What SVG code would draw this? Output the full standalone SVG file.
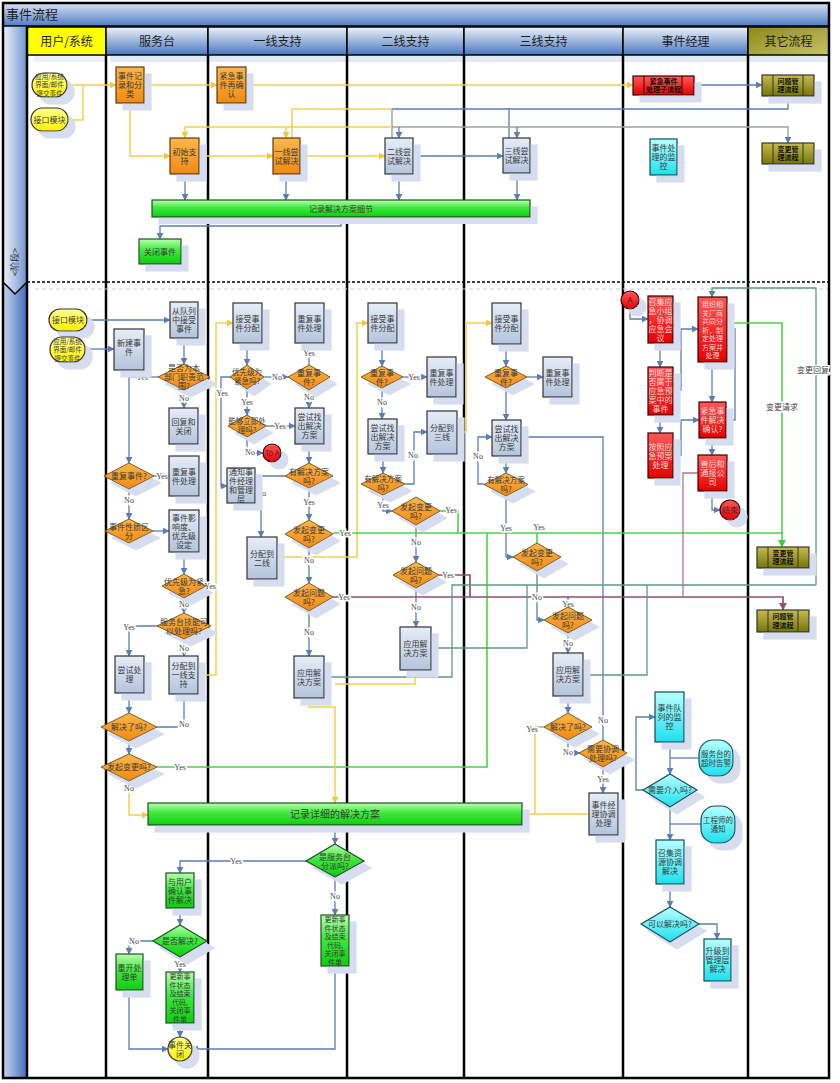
<svg xmlns="http://www.w3.org/2000/svg" width="840" height="1083" viewBox="0 0 840 1083">
<defs>
<style>
.t{font-family:"Noto Sans CJK SC","Noto Sans",sans-serif;font-size:8px;fill:#3a3a3a;text-anchor:middle}
.ts{font-size:7.5px}
.t7{font-size:7px}
.t6{font-size:6.5px}
.tb{font-weight:bold;font-size:7px;fill:#111}
.tr{fill:#f2d6d6}
.h{font-family:"Noto Sans CJK SC","Noto Sans",sans-serif;font-size:12px;fill:#1e1e1e;text-anchor:middle}
.yl{font-family:"Liberation Serif",serif;font-size:8px;fill:#444;text-anchor:middle;paint-order:stroke;stroke:#fff;stroke-width:3px}
.cl{font-family:"Noto Sans CJK SC",sans-serif;font-size:8px;fill:#444;text-anchor:middle;paint-order:stroke;stroke:#fff;stroke-width:3px}
.bx{fill:url(#gB);stroke:#333;stroke-width:1.2;filter:url(#sh)}
.or{fill:url(#gO);stroke:#5a3a10;stroke-width:1.2;filter:url(#sh)}
.od{fill:url(#gO);stroke:#7a5a20;stroke-width:1;filter:url(#sh)}
.gr{fill:url(#gG);stroke:#1f4f1f;stroke-width:1.2;filter:url(#sh)}
.rd{fill:url(#gR);stroke:#3a0000;stroke-width:1.2;filter:url(#sh)}
.cy1{fill:url(#gC);stroke:#1a4a55;stroke-width:1.2;filter:url(#sh)}
.yw{fill:url(#gY);stroke:#333;stroke-width:1.2;filter:url(#sh)}
.ol{fill:url(#gOl);stroke:#333;stroke-width:1.2;filter:url(#sh)}
.cb{fill:none;stroke:#5b7db3;stroke-width:1.3}
.cy{fill:none;stroke:#f4cf4e;stroke-width:1.5}
.cg{fill:none;stroke:#4bd34b;stroke-width:1.6}
.ct{fill:none;stroke:#5e9a80;stroke-width:1.3}
.cp{fill:none;stroke:#8e4f77;stroke-width:1.7}
.cp2{fill:none;stroke:#a8779a;stroke-width:1.3}
.cgy{fill:none;stroke:#9aa29a;stroke-width:1.4}
.ln{stroke:#000;stroke-width:2.5}
</style>
<linearGradient id="gB" x1="0" y1="0" x2="0" y2="1"><stop offset="0" stop-color="#e6edf7"/><stop offset="1" stop-color="#b4c4dc"/></linearGradient>
<linearGradient id="gO" x1="0" y1="0" x2="0" y2="1"><stop offset="0" stop-color="#fcb64a"/><stop offset="1" stop-color="#f08a12"/></linearGradient>
<linearGradient id="gG" x1="0" y1="0" x2="0" y2="1"><stop offset="0" stop-color="#b8ffae"/><stop offset="0.45" stop-color="#3fe83f"/><stop offset="1" stop-color="#10cc10"/></linearGradient>
<linearGradient id="gR" x1="0" y1="0" x2="0" y2="1"><stop offset="0" stop-color="#ff5a5a"/><stop offset="1" stop-color="#e60000"/></linearGradient>
<linearGradient id="gC" x1="0" y1="0" x2="0" y2="1"><stop offset="0" stop-color="#b8ffff"/><stop offset="1" stop-color="#1ee0ee"/></linearGradient>
<linearGradient id="gY" x1="0" y1="0" x2="0" y2="1"><stop offset="0" stop-color="#ffff90"/><stop offset="1" stop-color="#fff200"/></linearGradient>
<linearGradient id="gOl" x1="0" y1="0" x2="0" y2="1"><stop offset="0" stop-color="#c4bc4c"/><stop offset="1" stop-color="#77750a"/></linearGradient>
<linearGradient id="gH" x1="0" y1="0" x2="0" y2="1"><stop offset="0" stop-color="#eef2f9"/><stop offset="1" stop-color="#4a77c0"/></linearGradient>
<linearGradient id="gT" x1="0" y1="0" x2="0" y2="1"><stop offset="0" stop-color="#dbe4f3"/><stop offset="1" stop-color="#4f7cc4"/></linearGradient>
<linearGradient id="gHo" x1="0" y1="0" x2="1" y2="1"><stop offset="0" stop-color="#8a8a14"/><stop offset="1" stop-color="#c9c26a"/></linearGradient>
<linearGradient id="gL" x1="0" y1="0" x2="1" y2="0"><stop offset="0" stop-color="#c9d7ef"/><stop offset="1" stop-color="#3f6dbd"/></linearGradient>
<linearGradient id="gL2" x1="0" y1="0" x2="1" y2="0"><stop offset="0" stop-color="#eef2fa"/><stop offset="1" stop-color="#6d93cf"/></linearGradient>
<filter id="sh" x="-30%" y="-30%" width="170%" height="170%">
<feOffset in="SourceAlpha" dx="7" dy="7" result="o"/>
<feFlood flood-color="#d5ddee"/>
<feComposite operator="in" in2="o"/>
<feMerge><feMergeNode/><feMergeNode in="SourceGraphic"/></feMerge>
</filter>
<marker id="aB" viewBox="0 0 10 10" refX="9" refY="5" markerWidth="7" markerHeight="7" markerUnits="userSpaceOnUse" orient="auto"><path d="M0,0L10,5L0,10z" fill="#5b7db3"/></marker>
<marker id="aY" viewBox="0 0 10 10" refX="9" refY="5" markerWidth="7" markerHeight="7" markerUnits="userSpaceOnUse" orient="auto"><path d="M0,0L10,5L0,10z" fill="#f2c73a"/></marker>
<marker id="aG" viewBox="0 0 10 10" refX="9" refY="5" markerWidth="8" markerHeight="8" markerUnits="userSpaceOnUse" orient="auto"><path d="M0,0L10,5L0,10z" fill="#3ccc3c"/></marker>
<marker id="aT" viewBox="0 0 10 10" refX="9" refY="5" markerWidth="7" markerHeight="7" markerUnits="userSpaceOnUse" orient="auto"><path d="M0,0L10,5L0,10z" fill="#4f8f73"/></marker>
<marker id="aP" viewBox="0 0 10 10" refX="9" refY="5" markerWidth="8" markerHeight="8" markerUnits="userSpaceOnUse" orient="auto"><path d="M0,0L10,5L0,10z" fill="#8e4f77"/></marker>
</defs>

<rect width="840" height="1083" fill="#fff"/>

<g id="frame">
<rect x="3" y="3" width="826" height="23" fill="url(#gT)" stroke="#000" stroke-width="1.5"/>
<text x="6" y="19" style="font-family:'Noto Sans CJK SC',sans-serif;font-size:13px;fill:#1e1e1e">事件流程</text>
<rect x="3" y="27" width="24" height="1051" fill="url(#gL)"/>
<path d="M3,27H27V282L15,294L3,282Z" fill="url(#gL2)"/>
<path d="M3,282L15,294L27,282" fill="none" stroke="#000" stroke-width="1.5"/>
<text transform="translate(18,262) rotate(-90)" style="font-family:'Noto Sans CJK SC',sans-serif;font-size:9px;fill:#333;text-anchor:middle">&lt;阶段&gt;</text>
<rect x="34" y="34" width="72" height="28" fill="#d8e0ee" opacity="0.5"/>
<rect x="27" y="27" width="79" height="28" fill="#ffff00" stroke="#000" stroke-width="1.5"/>
<rect x="106" y="27" width="102" height="28" fill="url(#gH)" stroke="#000" stroke-width="1.5"/>
<rect x="208" y="27" width="139" height="28" fill="url(#gH)" stroke="#000" stroke-width="1.5"/>
<rect x="347" y="27" width="117" height="28" fill="url(#gH)" stroke="#000" stroke-width="1.5"/>
<rect x="464" y="27" width="159" height="28" fill="url(#gH)" stroke="#000" stroke-width="1.5"/>
<rect x="623" y="27" width="125" height="28" fill="url(#gH)" stroke="#000" stroke-width="1.5"/>
<rect x="748" y="27" width="81" height="28" fill="url(#gHo)" stroke="#000" stroke-width="1.5"/>
<rect x="110" y="56" width="719" height="6" fill="#e4eaf4"/>
<text class="h" x="66.5" y="46">用户/系统</text>
<text class="h" x="157" y="46">服务台</text>
<text class="h" x="277.5" y="46">一线支持</text>
<text class="h" x="405.5" y="46">二线支持</text>
<text class="h" x="543.5" y="46">三线支持</text>
<text class="h" x="685.5" y="46">事件经理</text>
<text class="h" x="788.5" y="46">其它流程</text>
<line class="ln" x1="27" y1="27" x2="27" y2="1078"/>
<line class="ln" x1="106" y1="55" x2="106" y2="1078"/>
<line class="ln" x1="208" y1="55" x2="208" y2="1078"/>
<line class="ln" x1="347" y1="55" x2="347" y2="1078"/>
<line class="ln" x1="464" y1="55" x2="464" y2="1078"/>
<line class="ln" x1="623" y1="55" x2="623" y2="1078"/>
<line class="ln" x1="748" y1="55" x2="748" y2="1078"/>
<line x1="35" y1="289" x2="829" y2="289" stroke="#c5d0e4" stroke-width="1.2" stroke-dasharray="4,3"/>
<line x1="27" y1="282" x2="829" y2="282" stroke="#000" stroke-width="1.5" stroke-dasharray="3,2"/>
<rect x="3" y="3" width="826" height="1075" fill="none" stroke="#000" stroke-width="2.5"/>
</g>

<g id="connectors">
<path class="cy" d="M67,85H116" marker-end="url(#aY)"/>
<path class="cy" d="M68,120H83V85"/>
<path class="cy" d="M144,85H217" marker-end="url(#aY)"/>
<path class="cy" d="M246,85H633" marker-end="url(#aY)"/>
<path class="cy" d="M130,103V156H170" marker-end="url(#aY)"/>
<path class="cy" d="M199,156H273" marker-end="url(#aY)"/>
<path class="cy" d="M300,156H385" marker-end="url(#aY)"/>
<path class="cb" d="M413,156H503" marker-end="url(#aB)"/>
<path class="cy" d="M292,138V109H392"/>
<path class="cb" d="M392,109H788V96" marker-end="url(#aB)"/>
<path class="cgy" d="M392,138V109"/>
<path class="cb" d="M509,138V109"/>
<path class="cy" d="M392,127H185V138" marker-end="url(#aY)"/>
<path class="cy" d="M286,127V138" marker-end="url(#aY)"/>
<path class="cgy" d="M392,127H788V143" marker-end="url(#aB)"/>
<path class="cb" d="M399,127V138" marker-end="url(#aB)"/>
<path class="cb" d="M517,127V138" marker-end="url(#aB)"/>
<path class="cb" d="M185,174V200" marker-end="url(#aB)"/>
<path class="cb" d="M286,174V200" marker-end="url(#aB)"/>
<path class="cb" d="M399,174V200" marker-end="url(#aB)"/>
<path class="cb" d="M517,173V200" marker-end="url(#aB)"/>
<path class="cb" d="M341,217V226H160V239" marker-end="url(#aB)"/>
<path class="cb" d="M694,85H762" marker-end="url(#aB)"/>

<path class="cb" d="M87,320H170" marker-end="url(#aB)"/>
<path class="cb" d="M85,349H114" marker-end="url(#aB)"/>
<path class="cb" d="M184,338V364" marker-end="url(#aB)"/>
<path class="cb" d="M158,377H129"/>
<path class="cb" d="M129,370V463" marker-end="url(#aB)"/>
<path class="cb" d="M184,390V408" marker-end="url(#aB)"/>
<path class="cb" d="M154,476H169" marker-end="url(#aB)"/>
<path class="cb" d="M129,489V519" marker-end="url(#aB)"/>
<path class="cb" d="M153,531H169" marker-end="url(#aB)"/>
<path class="cb" d="M184,552V574" marker-end="url(#aB)"/>
<path class="cb" d="M184,598V613" marker-end="url(#aB)"/>
<path class="cb" d="M158,626H129V656" marker-end="url(#aB)"/>
<path class="cb" d="M184,639V656" marker-end="url(#aB)"/>
<path class="cb" d="M129,693V713" marker-end="url(#aB)"/>
<path class="cb" d="M157,727H184V694" marker-end="url(#aB)"/>
<path class="cb" d="M129,741V754" marker-end="url(#aB)"/>
<path class="cgy" d="M206,586H216"/>
<path class="cy" d="M198,675H216V323H233" marker-end="url(#aY)"/>
<path class="cy" d="M129,781V815H148" marker-end="url(#aY)"/>
<path class="cg" d="M157,767H487V533"/>

<path class="cb" d="M335,825V844" marker-end="url(#aB)"/>
<path class="cb" d="M306,861H180V873" marker-end="url(#aB)"/>
<path class="cb" d="M335,877V915" marker-end="url(#aB)"/>
<path class="cb" d="M180,908V925" marker-end="url(#aB)"/>
<path class="cb" d="M153,941H129V954" marker-end="url(#aB)"/>
<path class="cb" d="M180,957V972" marker-end="url(#aB)"/>
<path class="cb" d="M180,1023V1037" marker-end="url(#aB)"/>
<path class="cb" d="M129,990V1049H168" marker-end="url(#aB)"/>
<path class="cb" d="M335,966V1049H192" marker-end="url(#aB)"/>

<path class="cb" d="M247,343V365" marker-end="url(#aB)"/>
<path class="cb" d="M247,389V415" marker-end="url(#aB)"/>
<path class="cb" d="M264,377H288" marker-end="url(#aB)"/>
<path class="cb" d="M230,377H221V486H227" marker-end="url(#aB)"/>
<path class="cb" d="M266,426H295" marker-end="url(#aB)"/>
<path class="cb" d="M247,437V453H263" marker-end="url(#aB)"/>
<path class="cb" d="M309,365V343" marker-end="url(#aB)"/>
<path class="cb" d="M309,390V408" marker-end="url(#aB)"/>
<path class="cb" d="M309,444V463" marker-end="url(#aB)"/>
<path class="cb" d="M286,476H261V537" marker-end="url(#aB)"/>
<path class="cb" d="M309,488V520" marker-end="url(#aB)"/>
<path class="cb" d="M309,548V583" marker-end="url(#aB)"/>
<path class="cb" d="M309,611V656" marker-end="url(#aB)"/>
<path class="cy" d="M277,557H357V323H368" marker-end="url(#aY)"/>
<path class="cy" d="M309,698V707H335V803" marker-end="url(#aY)"/>

<path class="cb" d="M382,343V366" marker-end="url(#aB)"/>
<path class="cb" d="M403,377H427" marker-end="url(#aB)"/>
<path class="cb" d="M382,388V419" marker-end="url(#aB)"/>
<path class="cb" d="M383,454V473" marker-end="url(#aB)"/>
<path class="cb" d="M405,484H414V432H427" marker-end="url(#aB)"/>
<path class="cb" d="M383,495V511H392" marker-end="url(#aB)"/>
<path class="cb" d="M416,525V562" marker-end="url(#aB)"/>
<path class="cb" d="M416,588V627" marker-end="url(#aB)"/>
<path class="cy" d="M457,432H466V323H492" marker-end="url(#aY)"/>
<path class="cy" d="M415,670V684H335"/>

<path class="cb" d="M506,344V366" marker-end="url(#aB)"/>
<path class="cb" d="M527,377H543" marker-end="url(#aB)"/>
<path class="cb" d="M506,388V420" marker-end="url(#aB)"/>
<path class="cb" d="M506,456V473" marker-end="url(#aB)"/>
<path class="cb" d="M484,484H478V437H492" marker-end="url(#aB)"/>
<path class="cb" d="M506,496V557H513" marker-end="url(#aB)"/>
<path class="cb" d="M537,571V620H544" marker-end="url(#aB)"/>
<path class="cb" d="M568,633V653" marker-end="url(#aB)"/>
<path class="cb" d="M568,696V713" marker-end="url(#aB)"/>
<path class="cb" d="M568,740V753H580" marker-end="url(#aB)"/>
<path class="cb" d="M603,740V437H521" marker-end="url(#aB)"/>
<path class="cb" d="M603,767V793" marker-end="url(#aB)"/>
<path class="cgy" d="M544,727H535"/>
<path class="cy" d="M535,727V814H522" marker-end="url(#aY)"/>
<path class="cy" d="M589,814H535"/>

<path class="cg" d="M333,533H782"/>
<path class="cg" d="M440,511H458V533"/>
<path class="cg" d="M537,543V533"/>
<path class="cg" d="M727,323H782V547" marker-end="url(#aG)"/>
<path class="cp" d="M333,597H783V610" marker-end="url(#aP)"/>
<path class="cp" d="M439,575H470V597"/>
<path class="cp" d="M568,607V597"/>
<path class="cp2" d="M698,473H683V597"/>
<path class="ct" d="M809,557H816"/>
<path class="ct" d="M816,585V288H712V297" marker-end="url(#aT)"/>
<path class="ct" d="M816,585H452V677H324" marker-end="url(#aT)"/>
<path class="ct" d="M647,585V675H583" marker-end="url(#aT)"/>
<path class="ct" d="M527,585V648H431" marker-end="url(#aT)"/>

<path class="cb" d="M630,309V319H648" marker-end="url(#aB)"/>
<path class="cb" d="M660,343V367" marker-end="url(#aB)"/>
<path class="cb" d="M660,415V433" marker-end="url(#aB)"/>
<path class="cb" d="M673,390H681V329H698" marker-end="url(#aB)"/>
<path class="cb" d="M673,455H681V420H699" marker-end="url(#aB)"/>
<path class="cb" d="M712,362V402" marker-end="url(#aB)"/>
<path class="cb" d="M726,420H735V329H727" marker-end="url(#aB)"/>
<path class="cb" d="M712,438V455" marker-end="url(#aB)"/>
<path class="cb" d="M712,491V510H720" marker-end="url(#aB)"/>

<path class="cb" d="M670,742V774" marker-end="url(#aB)"/>
<path class="cb" d="M699,758H670"/>
<path class="cb" d="M643,790H636V717H655" marker-end="url(#aB)"/>
<path class="cb" d="M670,807V840" marker-end="url(#aB)"/>
<path class="cb" d="M701,824H670"/>
<path class="cb" d="M670,884V907" marker-end="url(#aB)"/>
<path class="cb" d="M699,924H717V939" marker-end="url(#aB)"/>

<text class="yl" x="142" y="380">Yes</text>
<text class="yl" x="184" y="401">No</text>
<text class="yl" x="162" y="479">Yes</text>
<text class="yl" x="129" y="503">No</text>
<text class="yl" x="210" y="589">Yes</text>
<text class="yl" x="184" y="607">No</text>
<text class="yl" x="129" y="630">Yes</text>
<text class="yl" x="184" y="651">No</text>
<text class="yl" x="184" y="727">No</text>
<text class="yl" x="180" y="770">Yes</text>
<text class="yl" x="129" y="791">No</text>
<text class="yl" x="236" y="864">Yes</text>
<text class="yl" x="335" y="899">No</text>
<text class="yl" x="134" y="944">No</text>
<text class="yl" x="180" y="967">Yes</text>
<text class="yl" x="247" y="405">Yes</text>
<text class="yl" x="277" y="380">No</text>
<text class="yl" x="222" y="396">Yes</text>
<text class="yl" x="280" y="429">Yes</text>
<text class="yl" x="250" y="455">No</text>
<text class="yl" x="309" y="356">Yes</text>
<text class="yl" x="309" y="400">No</text>
<text class="yl" x="261" y="496">No</text>
<text class="yl" x="309" y="505">Yes</text>
<text class="yl" x="345" y="536">Yes</text>
<text class="yl" x="309" y="563">No</text>
<text class="yl" x="344" y="600">Yes</text>
<text class="yl" x="309" y="635">No</text>
<text class="yl" x="414" y="380">Yes</text>
<text class="yl" x="382" y="405">No</text>
<text class="yl" x="413" y="458">No</text>
<text class="yl" x="383" y="508">Yes</text>
<text class="yl" x="451" y="513">Yes</text>
<text class="yl" x="416" y="545">No</text>
<text class="yl" x="448" y="578">Yes</text>
<text class="yl" x="416" y="610">No</text>
<text class="yl" x="478" y="459">No</text>
<text class="yl" x="506" y="531">Yes</text>
<text class="yl" x="539" y="530">Yes</text>
<text class="yl" x="537" y="600">No</text>
<text class="yl" x="568" y="607">Yes</text>
<text class="yl" x="568" y="646">No</text>
<text class="yl" x="532" y="732">Yes</text>
<text class="yl" x="568" y="755">No</text>
<text class="yl" x="603" y="723">No</text>
<text class="yl" x="603" y="782">Yes</text>
<text class="cl" x="782" y="410">变更请求</text>
<text class="cl" x="813" y="373">变更回复</text>
</g>

<g id="u-user-submit"><rect class="yw" x="32" y="73" width="35" height="24" rx="12"/><text class="t t6" x="49.5" y="78.5">应用/系统<tspan x="49.5" dy="8.5">界面/邮件</tspan><tspan x="49.5" dy="8.5">提交事件</tspan></text></g>
<g id="u-interface"><rect class="yw" x="31" y="108" width="37" height="23" rx="11.5"/><text class="t" x="49.5" y="122.5">接口模块</text></g>
<g id="u-record"><rect class="or" x="116" y="67" width="28" height="36"/><text class="t" x="130" y="79">事件记<tspan x="130" dy="9">录和分</tspan><tspan x="130" dy="9">类</tspan></text></g>
<g id="u-urgent-confirm"><rect class="or" x="217" y="67" width="29" height="36"/><text class="t" x="231.5" y="79">紧急事<tspan x="231.5" dy="9">件再确</tspan><tspan x="231.5" dy="9">认</tspan></text></g>
<g id="u-initial"><rect class="or" x="170" y="138" width="29" height="36"/><text class="t" x="184.5" y="154.5">初始支<tspan x="184.5" dy="9">持</tspan></text></g>
<g id="u-l1"><rect class="or" x="273" y="138" width="27" height="36"/><text class="t" x="286.5" y="154.5">一线尝<tspan x="286.5" dy="9">试解决</tspan></text></g>
<g id="u-l2"><rect class="bx" x="385" y="138" width="28" height="36"/><text class="t" x="399" y="154.5">二线尝<tspan x="399" dy="9">试解决</tspan></text></g>
<g id="u-l3"><rect class="bx" x="503" y="138" width="27" height="35"/><text class="t" x="516.5" y="154">三线尝<tspan x="516.5" dy="9">试解决</tspan></text></g>
<g id="u-record-bar"><rect class="gr" x="152" y="200" width="378" height="17"/><text class="t" x="341" y="211.5">记录解决方案细节</text></g>
<g id="u-close"><rect class="gr" x="139" y="239" width="42" height="25"/><text class="t" x="160" y="254.5">关闭事件</text></g>
<g id="u-urgent-sub"><rect class="rd" x="633" y="76" width="61" height="19"/><line x1="644" y1="76" x2="644" y2="95" stroke="#3a0000"/><line x1="682" y1="76" x2="682" y2="95" stroke="#3a0000"/><text class="t tb" x="663.5" y="83.5">紧急事件<tspan x="663.5" dy="8.5">处理子流程</tspan></text></g>
<g id="u-problem"><rect class="ol" x="762" y="75" width="52" height="21"/><line x1="773" y1="75" x2="773" y2="96" stroke="#333"/><line x1="803" y1="75" x2="803" y2="96" stroke="#333"/><text class="t tb" x="788" y="83.5">问题管<tspan x="788" dy="8.5">理流程</tspan></text></g>
<g id="u-change"><rect class="ol" x="762" y="143" width="52" height="21"/><line x1="773" y1="143" x2="773" y2="164" stroke="#333"/><line x1="803" y1="143" x2="803" y2="164" stroke="#333"/><text class="t tb" x="788" y="151.5">变更管<tspan x="788" dy="8.5">理流程</tspan></text></g>
<g id="u-monitor"><rect class="cy1" x="650" y="139" width="27" height="36"/><text class="t" x="663.5" y="151">事件处<tspan x="663.5" dy="9">理的监</tspan><tspan x="663.5" dy="9">控</tspan></text></g>

<g id="l-interface"><rect class="yw" x="49" y="309" width="38" height="22" rx="11"/><text class="t" x="68" y="323">接口模块</text></g>
<g id="l-user-submit"><rect class="yw" x="50" y="337" width="35" height="25" rx="12"/><text class="t t6" x="67.5" y="343.5">应用/系统<tspan x="67.5" dy="8.5">界面/邮件</tspan><tspan x="67.5" dy="8.5">提交事件</tspan></text></g>
<g id="sd-queue"><rect class="bx" x="170" y="302" width="28" height="36"/><text class="t" x="184" y="314">从队列<tspan x="184" dy="9">中接受</tspan><tspan x="184" dy="9">事件</tspan></text></g>
<g id="sd-new"><rect class="bx" x="114" y="329" width="30" height="41"/><text class="t" x="129" y="346">新建事<tspan x="129" dy="9">件</tspan></text></g>
<g id="sd-scope"><polygon class="od" points="184,364 210,377 184,390 158,377"/><text class="t" x="184" y="371">是否为本<tspan x="184" dy="9">部门职责范</tspan><tspan x="184" dy="9">围?</tspan></text></g>
<g id="sd-reply"><rect class="bx" x="169" y="408" width="29" height="36"/><text class="t" x="183.5" y="424.5">回复和<tspan x="183.5" dy="9">关闭</tspan></text></g>
<g id="sd-dup"><polygon class="od" points="129,463 154,476 129,489 104,476"/><text class="t" x="129" y="479">重复事件?</text></g>
<g id="sd-dup-proc"><rect class="bx" x="169" y="456" width="30" height="40"/><text class="t" x="184" y="474.5">重复事<tspan x="184" dy="9">件处理</tspan></text></g>
<g id="sd-nature"><polygon class="od" points="129,519 153,531 129,543 105,531"/><text class="t" x="129" y="529.5">事件性质区<tspan x="129" dy="9">分</tspan></text></g>
<g id="sd-priority"><rect class="bx" x="169" y="510" width="30" height="42"/><text class="t" x="184" y="520.5">事件影<tspan x="184" dy="9">响度、</tspan><tspan x="184" dy="9">优先级</tspan><tspan x="184" dy="9">设定</tspan></text></g>
<g id="sd-urgent"><polygon class="od" points="184,574 206,586 184,598 162,586"/><text class="t" x="184" y="584.5">优先级为紧<tspan x="184" dy="9">急?</tspan></text></g>
<g id="sd-skill"><polygon class="od" points="184,613 211,626 184,639 157,626"/><text class="t" x="184" y="624.5">服务台技能可<tspan x="184" dy="9">以处理吗?</tspan></text></g>
<g id="sd-try"><rect class="bx" x="115" y="656" width="29" height="37"/><text class="t" x="129.5" y="673">尝试处<tspan x="129.5" dy="9">理</tspan></text></g>
<g id="sd-assign1"><rect class="bx" x="169" y="656" width="29" height="38"/><text class="t" x="183.5" y="669">分配到<tspan x="183.5" dy="9">一线支</tspan><tspan x="183.5" dy="9">持</tspan></text></g>
<g id="sd-solved"><polygon class="od" points="129,713 157,727 129,741 101,727"/><text class="t" x="129" y="730">解决了吗?</text></g>
<g id="sd-change"><polygon class="od" points="129,754 157,767 129,781 101,767"/><text class="t" x="129" y="770">发起变更吗?</text></g>
<g id="record-detail"><rect class="gr" x="148" y="803" width="374" height="22"/><text class="t" x="335" y="818" style="font-size:10px">记录详细的解决方案</text></g>
<g id="is-sd-assigned"><polygon class="gr" points="335,844 364,861 335,877 306,861"/><text class="t" x="335" y="859.5">是服务台<tspan x="335" dy="9">分派吗?</tspan></text></g>
<g id="confirm-user"><rect class="gr" x="166" y="873" width="28" height="35"/><text class="t" x="180" y="884.5">与用户<tspan x="180" dy="9">确认事</tspan><tspan x="180" dy="9">件解决</tspan></text></g>
<g id="is-solved"><polygon class="gr" points="180,925 207,941 180,957 153,941"/><text class="t" x="180" y="944">是否解决?</text></g>
<g id="reopen"><rect class="gr" x="116" y="954" width="27" height="36"/><text class="t" x="129.5" y="970.5">重开处<tspan x="129.5" dy="9">理单</tspan></text></g>
<g id="update-close-a"><rect class="gr" x="166" y="972" width="28" height="51"/><text class="t t7" x="180" y="979">更新事<tspan x="180" dy="8.5">件状态</tspan><tspan x="180" dy="8.5">及结束</tspan><tspan x="180" dy="8.5">代码,</tspan><tspan x="180" dy="8.5">关闭事</tspan><tspan x="180" dy="8.5">件单</tspan></text></g>
<g id="update-close-b"><rect class="gr" x="321" y="915" width="28" height="51"/><text class="t t7" x="335" y="922">更新事<tspan x="335" dy="8.5">件状态</tspan><tspan x="335" dy="8.5">及结束</tspan><tspan x="335" dy="8.5">代码,</tspan><tspan x="335" dy="8.5">关闭事</tspan><tspan x="335" dy="8.5">件单</tspan></text></g>
<g id="closed"><circle class="yw" cx="180" cy="1049" r="12"/><text class="t" x="180" y="1047.5">事件关<tspan x="180" dy="9">闭</tspan></text></g>

<g id="l1-accept"><rect class="bx" x="233" y="303" width="29" height="40"/><text class="t" x="247.5" y="321.5">接受事<tspan x="247.5" dy="9">件分配</tspan></text></g>
<g id="l1-urgent"><polygon class="od" points="247,365 264,377 247,389 230,377"/><text class="t ts" x="247" y="375">优先级为<tspan x="247" dy="9">紧急吗?</tspan></text></g>
<g id="l1-now"><polygon class="od" points="247,415 266,426 247,437 228,426"/><text class="t ts" x="247" y="424">能够立即处<tspan x="247" dy="9">理吗?</tspan></text></g>
<g id="l1-notify"><rect class="bx" x="227" y="468" width="28" height="35"/><text class="t" x="241" y="475">通知事<tspan x="241" dy="9">件经理</tspan><tspan x="241" dy="9">和管理</tspan><tspan x="241" dy="9">层</tspan></text></g>
<g id="to-a"><circle class="rd" cx="272" cy="453" r="9"/><text class="t ts" x="272" y="455.5" style="fill:#552020">To A</text></g>
<g id="l1-dup-proc"><rect class="bx" x="295" y="303" width="29" height="40"/><text class="t" x="309.5" y="321.5">重复事<tspan x="309.5" dy="9">件处理</tspan></text></g>
<g id="l1-dup"><polygon class="od" points="309,365 330,377 309,390 288,377"/><text class="t" x="309" y="375.5">重复事<tspan x="309" dy="9">件?</tspan></text></g>
<g id="l1-find"><rect class="bx" x="295" y="408" width="29" height="36"/><text class="t" x="309.5" y="420">尝试找<tspan x="309.5" dy="9">出解决</tspan><tspan x="309.5" dy="9">方案</tspan></text></g>
<g id="l1-has"><polygon class="od" points="309,463 333,476 309,488 285,476"/><text class="t" x="309" y="474.5">有解决方案<tspan x="309" dy="9">吗?</tspan></text></g>
<g id="l1-assign2"><rect class="bx" x="247" y="537" width="30" height="42"/><text class="t" x="262" y="556.5">分配到<tspan x="262" dy="9">二线</tspan></text></g>
<g id="l1-change"><polygon class="od" points="309,520 333,534 309,548 285,534"/><text class="t" x="309" y="532.5">发起变更<tspan x="309" dy="9">吗?</tspan></text></g>
<g id="l1-problem"><polygon class="od" points="309,583 333,597 309,611 285,597"/><text class="t" x="309" y="595.5">发起问题<tspan x="309" dy="9">吗?</tspan></text></g>
<g id="l1-apply"><rect class="bx" x="294" y="656" width="30" height="42"/><text class="t" x="309" y="675.5">应用解<tspan x="309" dy="9">决方案</tspan></text></g>

<g id="l2-accept"><rect class="bx" x="368" y="303" width="29" height="40"/><text class="t" x="382.5" y="321.5">接受事<tspan x="382.5" dy="9">件分配</tspan></text></g>
<g id="l2-dup"><polygon class="od" points="382,366 403,377 382,388 361,377"/><text class="t" x="382" y="375.5">重复事<tspan x="382" dy="9">件?</tspan></text></g>
<g id="l2-dup-proc"><rect class="bx" x="427" y="357" width="29" height="40"/><text class="t" x="441.5" y="375.5">重复事<tspan x="441.5" dy="9">件处理</tspan></text></g>
<g id="l2-find"><rect class="bx" x="368" y="419" width="29" height="35"/><text class="t" x="382.5" y="430.5">尝试找<tspan x="382.5" dy="9">出解决</tspan><tspan x="382.5" dy="9">方案</tspan></text></g>
<g id="l2-has"><polygon class="od" points="383,473 405,484 383,495 361,484"/><text class="t ts" x="383" y="482">有解决方案<tspan x="383" dy="9">吗?</tspan></text></g>
<g id="l2-assign3"><rect class="bx" x="427" y="411" width="30" height="43"/><text class="t" x="442" y="431">分配到<tspan x="442" dy="9">三线</tspan></text></g>
<g id="l2-change"><polygon class="od" points="416,497 440,511 416,525 392,511"/><text class="t" x="416" y="509.5">发起变更<tspan x="416" dy="9">吗?</tspan></text></g>
<g id="l2-problem"><polygon class="od" points="416,562 439,575 416,588 393,575"/><text class="t" x="416" y="573.5">发起问题<tspan x="416" dy="9">吗?</tspan></text></g>
<g id="l2-apply"><rect class="bx" x="400" y="627" width="31" height="43"/><text class="t" x="415.5" y="647">应用解<tspan x="415.5" dy="9">决方案</tspan></text></g>

<g id="l3-accept"><rect class="bx" x="492" y="303" width="29" height="41"/><text class="t" x="506.5" y="322">接受事<tspan x="506.5" dy="9">件分配</tspan></text></g>
<g id="l3-dup"><polygon class="od" points="506,366 527,377 506,388 485,377"/><text class="t" x="506" y="375.5">重复事<tspan x="506" dy="9">件?</tspan></text></g>
<g id="l3-dup-proc"><rect class="bx" x="543" y="357" width="29" height="40"/><text class="t" x="557.5" y="375.5">重复事<tspan x="557.5" dy="9">件处理</tspan></text></g>
<g id="l3-find"><rect class="bx" x="492" y="420" width="29" height="36"/><text class="t" x="506.5" y="432">尝试找<tspan x="506.5" dy="9">出解决</tspan><tspan x="506.5" dy="9">方案</tspan></text></g>
<g id="l3-has"><polygon class="od" points="506,473 528,484.5 506,496 484,484.5"/><text class="t ts" x="506" y="482.5">有解决方案<tspan x="506" dy="9">吗?</tspan></text></g>
<g id="l3-change"><polygon class="od" points="537,543 561,557 537,571 513,557"/><text class="t" x="537" y="555.5">发起变更<tspan x="537" dy="9">吗?</tspan></text></g>
<g id="l3-problem"><polygon class="od" points="568,607 592,620 568,633 544,620"/><text class="t" x="568" y="618.5">发起问题<tspan x="568" dy="9">吗?</tspan></text></g>
<g id="l3-apply"><rect class="bx" x="553" y="653" width="30" height="43"/><text class="t" x="568" y="673">应用解<tspan x="568" dy="9">决方案</tspan></text></g>
<g id="l3-solved"><polygon class="od" points="568,713 592,727 568,740 544,727"/><text class="t" x="568" y="730">解决了吗?</text></g>
<g id="l3-coord"><polygon class="od" points="603,740 627,753 603,767 579,753"/><text class="t" x="603" y="751.5">需要协调<tspan x="603" dy="9">处理吗?</tspan></text></g>
<g id="l3-mgr-coord"><rect class="bx" x="589" y="793" width="29" height="42"/><text class="t" x="603.5" y="808">事件经<tspan x="603.5" dy="9">理协调</tspan><tspan x="603.5" dy="9">处理</tspan></text></g>

<g id="m-a"><circle class="rd" cx="630" cy="300" r="9"/><text class="t" x="630" y="303" style="fill:#552020">A</text></g>
<g id="m-convene"><rect class="rd" x="648" y="296" width="25" height="47"/><text class="t tr" x="660.5" y="304.5">召集应<tspan x="660.5" dy="9">急小组</tspan><tspan x="660.5" dy="9">，协调</tspan><tspan x="660.5" dy="9">应急会</tspan><tspan x="660.5" dy="9">议</tspan></text></g>
<g id="m-judge"><rect class="rd" x="648" y="367" width="25" height="48"/><text class="t tr" x="660.5" y="376">判断是<tspan x="660.5" dy="9">否属于</tspan><tspan x="660.5" dy="9">应急预</tspan><tspan x="660.5" dy="9">案中的</tspan><tspan x="660.5" dy="9">事件</tspan></text></g>
<g id="m-plan"><rect class="rd" x="648" y="433" width="25" height="45"/><text class="t tr" x="660.5" y="449.5">按照应<tspan x="660.5" dy="9">急预案</tspan><tspan x="660.5" dy="9">处理</tspan></text></g>
<g id="m-vendor"><rect class="rd" x="698" y="297" width="29" height="65"/><text class="t t7 tr" x="712.5" y="307">组织相<tspan x="712.5" dy="8.5">关厂商</tspan><tspan x="712.5" dy="8.5">共同分</tspan><tspan x="712.5" dy="8.5">析，制</tspan><tspan x="712.5" dy="8.5">定处理</tspan><tspan x="712.5" dy="8.5">方案并</tspan><tspan x="712.5" dy="8.5">处理</tspan></text></g>
<g id="m-confirm"><rect class="rd" x="699" y="402" width="27" height="36"/><text class="t tr" x="712.5" y="414">紧急事<tspan x="712.5" dy="9">件解决</tspan><tspan x="712.5" dy="9">确认?</tspan></text></g>
<g id="m-after"><rect class="rd" x="698" y="455" width="29" height="36"/><text class="t tr" x="712.5" y="467">善后和<tspan x="712.5" dy="9">通报公</tspan><tspan x="712.5" dy="9">司</tspan></text></g>
<g id="m-end"><circle class="rd" cx="730" cy="510" r="10"/><text class="t" x="730" y="513" style="fill:#552020">结束</text></g>
<g id="m-queue"><rect class="cy1" x="655" y="692" width="29" height="50"/><text class="t" x="669.5" y="711">事件队<tspan x="669.5" dy="9">列的监</tspan><tspan x="669.5" dy="9">控</tspan></text></g>
<g id="m-timeout"><rect class="cy1" x="699" y="740" width="34" height="36" rx="14"/><text class="t ts" x="716" y="756.5">服务台的<tspan x="716" dy="9">超时告警</tspan></text></g>
<g id="m-intervene"><polygon class="cy1" points="670,774 697,790 670,807 643,790"/><text class="t" x="670" y="793">需要介入吗?</text></g>
<g id="m-engineer"><rect class="cy1" x="701" y="806" width="34" height="37" rx="14"/><text class="t ts" x="718" y="823">工程师的<tspan x="718" dy="9">通知</tspan></text></g>
<g id="m-resources"><rect class="cy1" x="656" y="840" width="28" height="44"/><text class="t" x="670" y="856">召集资<tspan x="670" dy="9">源协调</tspan><tspan x="670" dy="9">解决</tspan></text></g>
<g id="m-can-solve"><polygon class="cy1" points="670,907 699,924 670,942 641,924"/><text class="t" x="670" y="927">可以解决吗?</text></g>
<g id="m-escalate"><rect class="cy1" x="704" y="939" width="27" height="42"/><text class="t" x="717.5" y="954">升级到<tspan x="717.5" dy="9">管理层</tspan><tspan x="717.5" dy="9">解决</tspan></text></g>

<g id="o-change"><rect class="ol" x="757" y="547" width="52" height="21"/><line x1="768" y1="547" x2="768" y2="568" stroke="#333"/><line x1="798" y1="547" x2="798" y2="568" stroke="#333"/><text class="t tb" x="783" y="555.5">变更管<tspan x="783" dy="8.5">理流程</tspan></text></g>
<g id="o-problem"><rect class="ol" x="757" y="610" width="52" height="22"/><line x1="768" y1="610" x2="768" y2="632" stroke="#333"/><line x1="798" y1="610" x2="798" y2="632" stroke="#333"/><text class="t tb" x="783" y="619">问题管<tspan x="783" dy="8.5">理流程</tspan></text></g>
</svg>
